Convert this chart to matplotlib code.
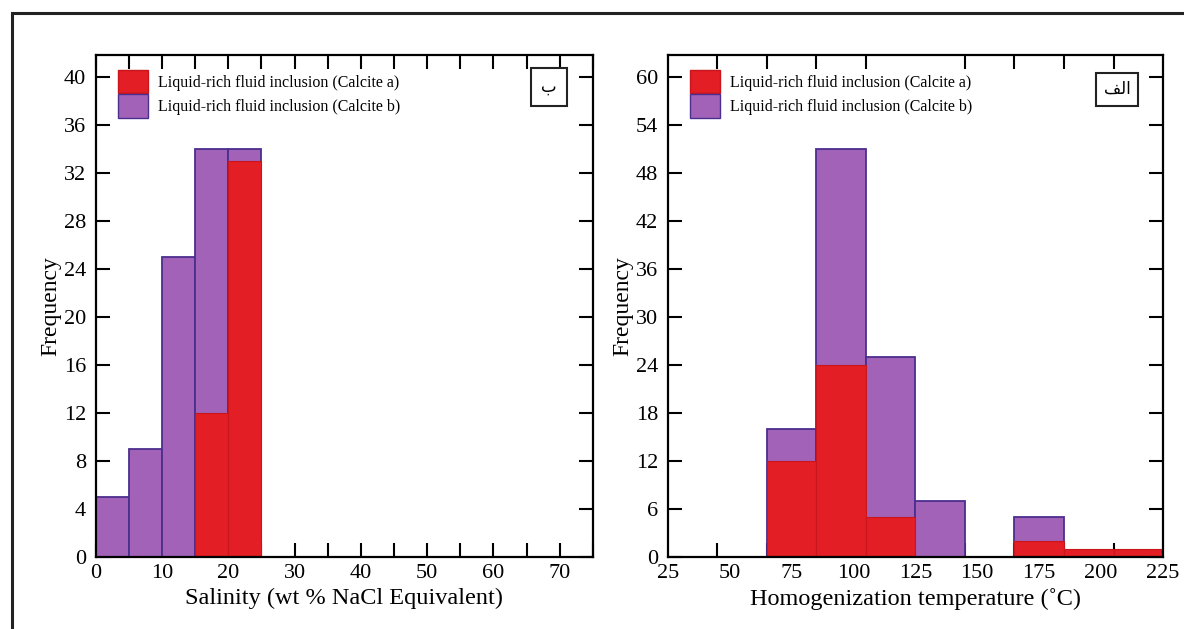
import matplotlib.pyplot as plt
from matplotlib.patches import Patch, Rectangle
from matplotlib.ticker import MultipleLocator

plt.rcParams["font.family"] = ["Liberation Serif", "DejaVu Sans"]

# salinity histogram (left, panel "ب")
sal_edges = [0, 5, 10, 15, 20]
sal_a = [0, 0, 0, 12, 33]
sal_b = [5, 9, 25, 34, 34]
sal_width = 5

# homogenization temperature histogram (right, panel "الف")
temp_edges = [65, 85, 105, 125, 145, 165, 185, 205]
temp_a = [12, 24, 5, 0, 0, 2, 1, 1]
temp_b = [16, 51, 25, 7, 0, 5, 0, 0]
temp_width = 20

label_a = "Liquid-rich fluid inclusion (Calcite a)"
label_b = "Liquid-rich fluid inclusion (Calcite b)"
# Arabic panel letters, written in presentation forms so they show joined
panel_left = "\uFE8F"                  # ب
panel_right = "\uFED2\uFEDF\uFE8D"     # الف

red = "#E31E24"
red_edge = "#C8161C"
purple = "#A262B8"
purple_edge = "#4B2F8F"

fig = plt.figure(figsize=(11.84, 6.29), dpi=100)
ax1 = fig.add_axes([0.0808, 0.1149, 0.4200, 0.7976])
ax2 = fig.add_axes([0.5639, 0.1149, 0.4184, 0.7976])


def draw_hist(ax, edges, a, b, width):
    for x, h in zip(edges, b):
        if h > 0:
            ax.bar(x, h, width=width, align="edge", color=purple,
                   edgecolor=purple_edge, linewidth=1.3, zorder=2)
    for x, h in zip(edges, a):
        if h > 0:
            ax.bar(x, h, width=width, align="edge", color=red,
                   edgecolor=red_edge, linewidth=0.8, zorder=3)


def style_axes(ax):
    for s in ax.spines.values():
        s.set_linewidth(1.6)
        s.set_zorder(5)
    ax.tick_params(which="both", direction="in", top=True, right=True,
                   width=1.5, length=10, labelsize=16, pad=5)
    ax.tick_params(axis="y", pad=7)
    ax.set_ylabel("Frequency", fontsize=17, labelpad=2)
    handles = [Patch(facecolor=red, edgecolor=red_edge, label=label_a),
               Patch(facecolor=purple, edgecolor=purple_edge, label=label_b)]
    ax.legend(handles=handles, loc="upper left", bbox_to_anchor=(0.025, 0.99),
              frameon=False, fontsize=11.5, handlelength=1.9, handleheight=1.9,
              handletextpad=0.6, labelspacing=0.05, borderaxespad=0.2)


# left panel
draw_hist(ax1, sal_edges, sal_a, sal_b, sal_width)
ax1.set_xlim(0, 75)
ax1.set_ylim(0, 41.8)
ax1.xaxis.set_major_locator(MultipleLocator(10))
ax1.xaxis.set_minor_locator(MultipleLocator(5))
ax1.yaxis.set_major_locator(MultipleLocator(4))
style_axes(ax1)
ax1.set_xlabel("Salinity (wt % NaCl Equivalent)", fontsize=17.5, labelpad=4)
ax1.text(0.911, 0.936, panel_left, transform=ax1.transAxes, ha="center",
         va="center", fontsize=12, family=["DejaVu Sans"],
         bbox=dict(boxstyle="square,pad=0.6", facecolor="white",
                   edgecolor="#222222", linewidth=1.5))

# right panel
draw_hist(ax2, temp_edges, temp_a, temp_b, temp_width)
ax2.set_xlim(25, 225)
ax2.set_ylim(0, 62.75)
ax2.set_xticks(range(25, 226, 25))
ax2.set_xticks(range(45, 206, 20), minor=True)
ax2.yaxis.set_major_locator(MultipleLocator(6))
style_axes(ax2)
ax2.tick_params(axis="x", which="major", length=0)
ax2.set_xlabel("Homogenization temperature (\u02daC)", fontsize=17.5, labelpad=4)
ax2.text(0.907, 0.932, panel_right, transform=ax2.transAxes, ha="center",
         va="center", fontsize=12, family=["DejaVu Sans"],
         bbox=dict(boxstyle="square,pad=0.45", facecolor="white",
                   edgecolor="#222222", linewidth=1.5))

# outer frame of the figure (cut off on the right and bottom)
fig.add_artist(Rectangle((12 / 1184, -0.2), 1.3, 0.2 + 1 - 13 / 629,
                         transform=fig.transFigure, fill=False,
                         edgecolor="#222222", linewidth=2.2))

fig.savefig("out.png", dpi=100)
